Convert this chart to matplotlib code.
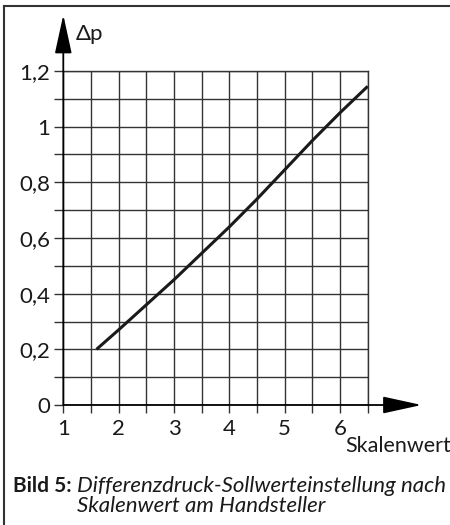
import matplotlib
matplotlib.use('Agg')
from matplotlib import pyplot as plt
from matplotlib.lines import Line2D

plt.rcParams['font.family'] = ['Lato', 'DejaVu Sans']

# curve
skalenwert = [1.6, 2.0, 2.5, 3.0, 3.5, 4.0, 4.5, 5.0, 5.5, 6.0, 6.5]
delta_p = [0.20, 0.27, 0.36, 0.45, 0.545, 0.64, 0.74, 0.845, 0.95, 1.05, 1.145]

x_major = [1, 2, 3, 4, 5, 6]
x_minor = [1.5, 2.5, 3.5, 4.5, 5.5, 6.5]
y_major = [0, 0.2, 0.4, 0.6, 0.8, 1.0, 1.2]
y_minor = [0.1, 0.3, 0.5, 0.7, 0.9, 1.1]
x_labels = ['1', '2', '3', '4', '5', '6']
y_labels = ['0', '0,2', '0,4', '0,6', '0,8', '1', '1,2']

W, H = 450, 525
grid_col = '#333333'
txt_col = '#1a1a1a'

fig = plt.figure(figsize=(W / 100, H / 100), dpi=100)
ax = fig.add_axes([63.3 / W, 1 - 405 / H, 304.4 / W, 334 / H])

ax.plot(skalenwert, delta_p, color='#1a1a1a', lw=2.2, solid_capstyle='butt', zorder=3)

ax.set_xlim(1, 6.5)
ax.set_ylim(0, 1.2)
ax.set_xticks(x_major)
ax.set_xticks(x_minor, minor=True)
ax.set_yticks(y_major)
ax.set_yticks(y_minor, minor=True)
ax.set_xticklabels(x_labels)
ax.set_yticklabels(y_labels)
ax.grid(which='both', color=grid_col, lw=1.0)

ax.tick_params(axis='x', which='both', direction='out', length=6, width=1, color=grid_col)
ax.tick_params(axis='y', which='both', direction='out', length=6.5, width=1, color=grid_col)
ax.tick_params(axis='x', which='major', labelsize=16, pad=4, labelcolor=txt_col)
ax.tick_params(axis='y', which='major', labelsize=16, pad=3, labelcolor=txt_col)

for s in ['left', 'bottom']:
    ax.spines[s].set_visible(False)
for s in ['top', 'right']:
    ax.spines[s].set_color(grid_col)
    ax.spines[s].set_linewidth(1.0)

# axis arrows
arrow = dict(arrowstyle='-|>,head_length=1.6,head_width=0.35', mutation_scale=15,
             color='black', lw=1.3, shrinkA=0, shrinkB=0)
ax.annotate('', xy=(0, 1.168), xytext=(0, 0), xycoords='axes fraction',
            arrowprops=arrow, annotation_clip=False)
ax.annotate('', xy=(1.177, 0), xytext=(0, 0), xycoords='axes fraction',
            arrowprops=arrow, annotation_clip=False)

fig.text(76 / W, 1 - 39.5 / H, '\u0394p', fontsize=16, color=txt_col, va='baseline')
fig.text(345 / W, 1 - 451.5 / H, 'Skalenwert', fontsize=15.5, color=txt_col, va='baseline')

# caption
fig.text(13 / W, 1 - 491.5 / H, 'Bild 5:', fontsize=15, fontweight='bold', color=txt_col, va='baseline')
fig.text(77 / W, 1 - 491.5 / H, 'Differenzdruck-Sollwerteinstellung nach', fontsize=16,
         style='italic', color=txt_col, va='baseline')
fig.text(77 / W, 1 - 511.5 / H, 'Skalenwert am Handsteller', fontsize=16,
         style='italic', color=txt_col, va='baseline')

# frame lines (left and top)
fig.add_artist(Line2D([4 / W, 4 / W], [0, 1 - 6 / H], transform=fig.transFigure, color=grid_col, lw=1.5))
fig.add_artist(Line2D([4 / W, 1], [1 - 6 / H, 1 - 6 / H], transform=fig.transFigure, color=grid_col, lw=1.5))

fig.savefig('out.png', dpi=100)
